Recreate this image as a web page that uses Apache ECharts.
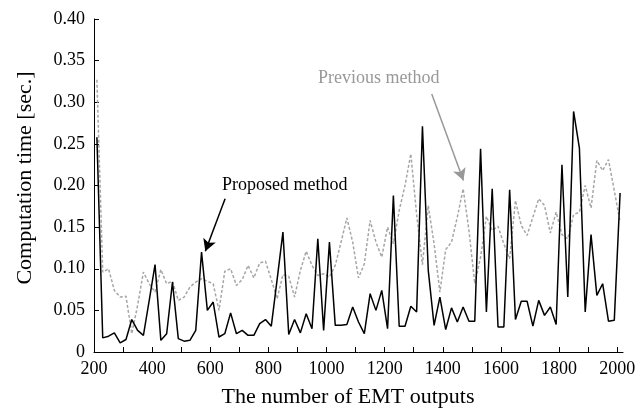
<!DOCTYPE html>
<html>
<head>
<meta charset="utf-8">
<script src="https://cdn.jsdelivr.net/npm/echarts@6/dist/echarts.min.js"></script>
<style>
html,body{margin:0;padding:0;background:#fff;}
#chart{width:644px;height:413px;}
</style>
</head>
<body>
<div id="chart"></div>
<script>
// x positions: 210, 230, ..., 2010
var xStart = 210, xStep = 20;
var proposed = [
0.258,0.017,0.019,0.023,0.011,0.015,0.039,0.026,0.020,0.062,
0.105,0.014,0.022,0.084,0.016,0.013,0.014,0.026,0.120,0.050,
0.060,0.018,0.022,0.047,0.022,0.026,0.020,0.020,0.034,0.039,
0.031,0.087,0.144,0.021,0.039,0.023,0.046,0.028,0.136,0.026,
0.132,0.032,0.032,0.033,0.054,0.036,0.022,0.070,0.050,0.074,
0.028,0.188,0.031,0.031,0.055,0.048,0.271,0.098,0.032,0.066,
0.027,0.053,0.036,0.054,0.037,0.037,0.244,0.048,0.196,0.030,
0.030,0.195,0.039,0.061,0.061,0.031,0.062,0.044,0.054,0.033,
0.225,0.066,0.289,0.245,0.048,0.141,0.068,0.082,0.037,0.038,
0.191
];
var previous = [
0.327,0.096,0.100,0.074,0.066,0.067,0.022,0.056,0.096,0.082,
0.072,0.099,0.082,0.085,0.062,0.066,0.078,0.084,0.088,0.085,
0.082,0.050,0.097,0.100,0.080,0.087,0.104,0.089,0.107,0.109,
0.087,0.064,0.093,0.091,0.066,0.098,0.121,0.104,0.092,0.094,
0.090,0.104,0.132,0.161,0.132,0.089,0.106,0.158,0.132,0.114,
0.150,0.130,0.170,0.200,0.238,0.165,0.105,0.176,0.130,0.072,
0.123,0.132,0.162,0.196,0.146,0.082,0.114,0.163,0.146,0.151,
0.130,0.112,0.182,0.152,0.140,0.162,0.184,0.176,0.143,0.168,
0.141,0.136,0.165,0.168,0.200,0.173,0.230,0.218,0.231,0.194,
0.156
];
var xLabels = [200,400,600,800,1000,1200,1400,1600,1800,2000];
var yLabels = [0,0.05,0.10,0.15,0.20,0.25,0.30,0.35,0.40];
var xTitle = 'The number of EMT outputs';
var yTitle = 'Computation time [sec.]';
var proposedLabel = 'Proposed method';
var previousLabel = 'Previous method';
// annotation arrows (data coordinates): [fromX, fromY, toX, toY]
var proposedArrow = [651, 0.184, 583, 0.121];
var previousArrow = [1362, 0.310, 1471, 0.206];

function toPairs(arr){ return arr.map(function(v,i){ return [xStart + i*xStep, v]; }); }

var font = 'Liberation Serif';
var chart = echarts.init(document.getElementById('chart'), null, {renderer:'canvas'});
chart.setOption({
  animation:false,
  backgroundColor:'#fff',
  grid:{left:94, right:21, top:19, bottom:61},
  xAxis:{
    type:'value', min:200, max:2020, interval:100,
    axisLine:{show:true, lineStyle:{color:'#000', width:1}},
    axisTick:{show:true, inside:true, length:5, lineStyle:{color:'#000'}},
    splitLine:{show:false},
    axisLabel:{
      color:'#000', fontFamily:font, fontSize:18, margin:8,
      showMaxLabel:false,
      formatter:function(v){ return xLabels.indexOf(v) >= 0 ? String(v) : ''; }
    }
  },
  yAxis:{
    type:'value', min:0, max:0.40, interval:0.05,
    axisLine:{show:true, lineStyle:{color:'#000', width:1}},
    axisTick:{show:true, inside:true, length:5, lineStyle:{color:'#000'}},
    splitLine:{show:false},
    axisLabel:{
      color:'#000', fontFamily:font, fontSize:18, margin:9,
      formatter:function(v){ return v === 0 ? '0' : v.toFixed(2); }
    }
  },
  series:[
    {
      name:previousLabel, type:'line', symbol:'none', z:2,
      data:toPairs(previous),
      lineStyle:{color:'#a6a6a6', width:1.5, type:[3,2]},
      markLine:{
        silent:true, symbol:['none','arrow'], symbolSize:[10,12],
        label:{show:false},
        lineStyle:{color:'#999', width:1.5, type:'solid'},
        data:[[{coord:[previousArrow[0], previousArrow[1]]},{coord:[previousArrow[2], previousArrow[3]]}]]
      }
    },
    {
      name:proposedLabel, type:'line', symbol:'none', z:3,
      data:toPairs(proposed),
      lineStyle:{color:'#000', width:1.5},
      markLine:{
        silent:true, symbol:['none','arrow'], symbolSize:[10,12],
        label:{show:false},
        lineStyle:{color:'#000', width:1.5, type:'solid'},
        data:[[{coord:[proposedArrow[0], proposedArrow[1]]},{coord:[proposedArrow[2], proposedArrow[3]]}]]
      }
    }
  ],
  graphic:[
    {type:'text', left:222, top:176, style:{text:proposedLabel, fill:'#000', font:'18px "Liberation Serif"'}},
    {type:'text', left:318, top:69, style:{text:previousLabel, fill:'#999', font:'18px "Liberation Serif"'}},
    {type:'text', x:348, y:397, style:{text:xTitle, fill:'#000', font:'22px "Liberation Serif"', align:'center', verticalAlign:'middle'}},
    {type:'text', x:25, y:178, rotation:Math.PI/2, style:{text:yTitle, fill:'#000', font:'22px "Liberation Serif"', align:'center', verticalAlign:'middle'}}
  ]
});
</script>
</body>
</html>
